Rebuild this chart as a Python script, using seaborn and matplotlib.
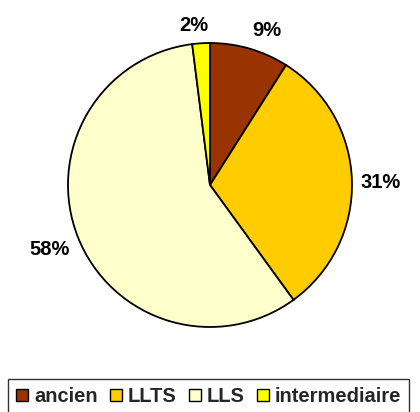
import matplotlib
matplotlib.use("Agg")
import matplotlib.pyplot as plt
import numpy as np
import seaborn as sns
from matplotlib.patches import Patch

# data
categories = ["ancien", "LLTS", "LLS", "intermediaire"]
shares = [9, 31, 58, 2]
colors = ["#993300", "#FFCC00", "#FFFFCC", "#FFFF00"]

sns.set_theme(style="white")
plt.rcParams["font.family"] = ["Liberation Sans", "DejaVu Sans"]
plt.rcParams["font.weight"] = "bold"

W, H = 420, 412
fig = plt.figure(figsize=(W / 100, H / 100), dpi=100)
fig.patch.set_facecolor("white")

# pie centre at (210, 185) px from top-left, radius ~142 px
cx, cy, r = 210, 185, 142
ax = fig.add_axes([(cx - r) / W, (H - cy - r) / H, 2 * r / W, 2 * r / H])

wedges, texts, autotexts = ax.pie(
    shares,
    colors=colors,
    startangle=90,
    counterclock=False,
    autopct="%1.0f%%",
    pctdistance=1.2,
    wedgeprops=dict(edgecolor="black", linewidth=1.3),
    textprops=dict(fontsize=14.5, fontweight="bold", color="black"),
)

# Excel-style placement: label box sits just outside the rim,
# anchored at the corner nearest the wedge midpoint
for w, t in zip(wedges, autotexts):
    ang = np.deg2rad((w.theta1 + w.theta2) / 2)
    c, s = np.cos(ang), np.sin(ang)
    x, y = 1.06 * c, 1.06 * s
    if abs(c) < 0.2:
        t.set_ha("center")
        x -= 0.05
    else:
        t.set_ha("left" if c > 0 else "right")
    if abs(s) < 0.2:
        t.set_va("center_baseline")
    else:
        t.set_va("bottom" if s > 0 else "top")
    t.set_position((x, y))

ax.set_xlim(-1, 1)
ax.set_ylim(-1, 1)
ax.set_aspect("equal")
ax.axis("off")

handles = [Patch(facecolor=c, edgecolor="black", linewidth=1.0) for c in colors]
leg = fig.legend(
    handles, categories,
    loc="upper left",
    bbox_to_anchor=(8 / W, 1 - 379 / H),
    ncol=4,
    frameon=True,
    fancybox=False,
    shadow=False,
    handlelength=0.6,
    handleheight=0.6,
    handletextpad=0.3,
    columnspacing=0.6,
    borderpad=0.4,
    borderaxespad=0,
    prop=dict(size=14.5, weight="bold"),
)
leg.get_frame().set_edgecolor("black")
leg.get_frame().set_linewidth(1.0)

fig.savefig("out.png", dpi=100)
